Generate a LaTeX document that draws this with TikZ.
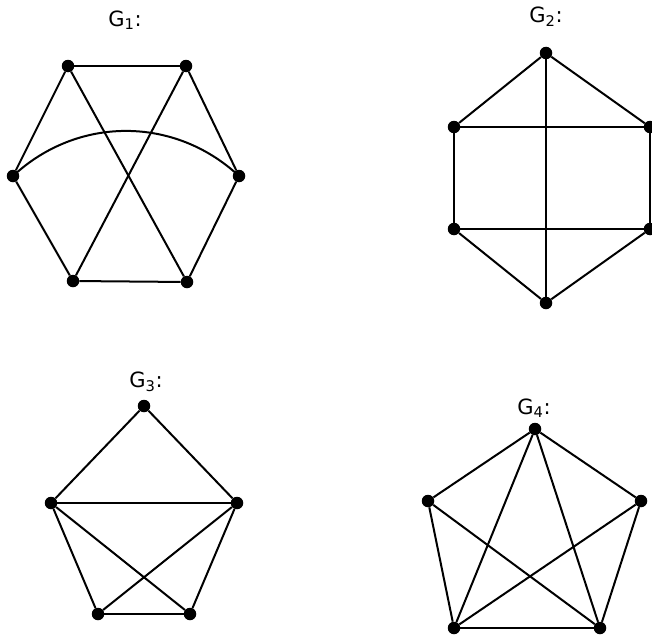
\documentclass[tikz,border=0pt]{standalone}
\usepackage{fontspec}
\setmainfont{DejaVu Sans}
\usepackage{tikz}
\usetikzlibrary{positioning}

\begin{document}
\begin{tikzpicture}[
    x=1pt, y=-1pt,
    dot/.style={circle, fill=black, inner sep=0pt, minimum size=12.5pt},
    edge/.style={line width=2pt},
    glabel/.style={font=\fontsize{21}{25}\selectfont}
  ]
  \useasboundingbox (0,0) rectangle (652,634);

  % G1
  \node[glabel] (g1lab) at (125,20) {G\textsubscript{1}:};
  \node[dot] (a1) at (68,66)  {};
  \node[dot] (a2) at (186,66) {};
  \node[dot] (a3) at (13,176) {};
  \node[dot] (a4) at (239,176) {};
  \node[dot] (a5) at (73,281) {};
  \node[dot] (a6) at (187,282) {};
  \draw[edge] (a1) -- (a2);
  \draw[edge] (a1) -- (a3);
  \draw[edge] (a2) -- (a4);
  \draw[edge] (a3) -- (a5);
  \draw[edge] (a4) -- (a6);
  \draw[edge] (a5) -- (a6);
  \draw[edge] (a1) -- (a6);
  \draw[edge] (a2) -- (a5);
  \draw[edge] (a3.center) to[bend left=43] (a4.center);

  % G2
  \node[glabel] (g2lab) at (546,17) {G\textsubscript{2}:};
  \node[dot] (b1) at (546,53)  {};
  \node[dot] (b2) at (454,127) {};
  \node[dot] (b3) at (650,127) {};
  \node[dot] (b4) at (454,229) {};
  \node[dot] (b5) at (650,229) {};
  \node[dot] (b6) at (546,303) {};
  \draw[edge] (b1) -- (b2);
  \draw[edge] (b1) -- (b3);
  \draw[edge] (b2) -- (b3);
  \draw[edge] (b2) -- (b4);
  \draw[edge] (b3) -- (b5);
  \draw[edge] (b4) -- (b5);
  \draw[edge] (b4) -- (b6);
  \draw[edge] (b5) -- (b6);
  \draw[edge] (b1) -- (b6);

  % G3
  \node[glabel] (g3lab) at (146,382) {G\textsubscript{3}:};
  \node[dot] (c1) at (144,406) {};
  \node[dot] (c2) at (51,503)  {};
  \node[dot] (c3) at (237,503) {};
  \node[dot] (c4) at (98,614)  {};
  \node[dot] (c5) at (190,614) {};
  \draw[edge] (c1) -- (c2);
  \draw[edge] (c1) -- (c3);
  \draw[edge] (c2) -- (c3);
  \draw[edge] (c2) -- (c4);
  \draw[edge] (c2) -- (c5);
  \draw[edge] (c3) -- (c4);
  \draw[edge] (c3) -- (c5);
  \draw[edge] (c4) -- (c5);

  % G4
  \node[glabel] (g4lab) at (534,408) {G\textsubscript{4}:};
  \node[dot] (d1) at (535,429) {};
  \node[dot] (d2) at (428,501) {};
  \node[dot] (d3) at (641,501) {};
  \node[dot] (d4) at (454,628) {};
  \node[dot] (d5) at (600,628) {};
  \draw[edge] (d1) -- (d2);
  \draw[edge] (d1) -- (d3);
  \draw[edge] (d1) -- (d4);
  \draw[edge] (d1) -- (d5);
  \draw[edge] (d2) -- (d4);
  \draw[edge] (d2) -- (d5);
  \draw[edge] (d3) -- (d4);
  \draw[edge] (d3) -- (d5);
  \draw[edge] (d4) -- (d5);
\end{tikzpicture}
\end{document}
